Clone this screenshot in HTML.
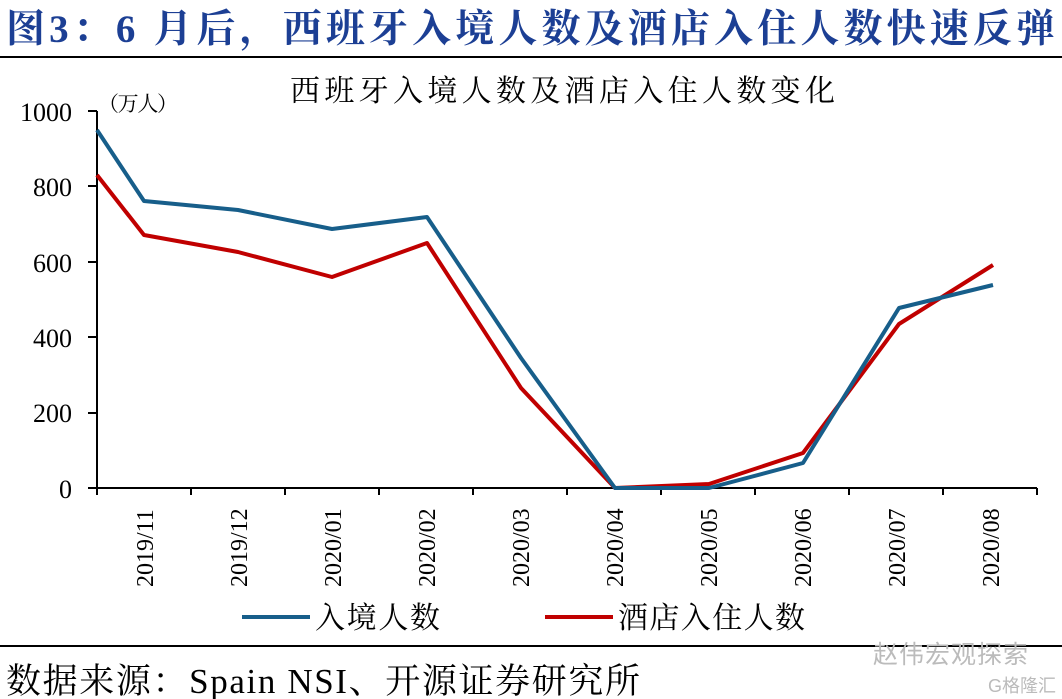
<!DOCTYPE html>
<html><head><meta charset="utf-8"><style>
html,body{margin:0;padding:0;background:#fff;width:1062px;height:699px;overflow:hidden}
svg{display:block}
</style></head><body>
<svg width="1062" height="699" xmlns="http://www.w3.org/2000/svg" font-family="Liberation Serif, Noto Serif CJK SC, serif">
<text x="6" y="42" font-size="39" font-weight="bold" fill="#1c3f94" textLength="1049" lengthAdjust="spacing">图3：6 月后，西班牙入境人数及酒店入住人数快速反弹</text>
<line x1="0" y1="57" x2="1062" y2="57" stroke="#000" stroke-width="2"/>
<text x="290" y="101" font-size="30" fill="#000" textLength="545" lengthAdjust="spacing">西班牙入境人数及酒店入住人数变化</text>
<text x="98" y="111" font-size="21" fill="#000" textLength="80" lengthAdjust="spacing">（万人）</text>
<g font-size="26" text-anchor="end" fill="#000">
<text x="72" y="121">1000</text><text x="72" y="196">800</text><text x="72" y="272">600</text>
<text x="72" y="347">400</text><text x="72" y="422">200</text><text x="72" y="498">0</text>
</g>
<g stroke="#000" stroke-width="2">
<line x1="97" y1="111" x2="97" y2="488"/>
<line x1="88" y1="488" x2="1037" y2="488"/>
<line x1="88" y1="111" x2="97" y2="111"/><line x1="88" y1="186" x2="97" y2="186"/>
<line x1="88" y1="262" x2="97" y2="262"/><line x1="88" y1="337" x2="97" y2="337"/>
<line x1="88" y1="413" x2="97" y2="413"/>
<line x1="97" y1="488" x2="97" y2="495"/><line x1="191" y1="488" x2="191" y2="495"/>
<line x1="285" y1="488" x2="285" y2="495"/><line x1="379" y1="488" x2="379" y2="495"/>
<line x1="473" y1="488" x2="473" y2="495"/><line x1="567" y1="488" x2="567" y2="495"/>
<line x1="661" y1="488" x2="661" y2="495"/><line x1="755" y1="488" x2="755" y2="495"/>
<line x1="849" y1="488" x2="849" y2="495"/><line x1="943" y1="488" x2="943" y2="495"/>
<line x1="1037" y1="488" x2="1037" y2="495"/>
</g>
<g font-size="24" fill="#000">
<text transform="translate(153,587) rotate(-90)">2019/11</text>
<text transform="translate(247,587) rotate(-90)">2019/12</text>
<text transform="translate(341,587) rotate(-90)">2020/01</text>
<text transform="translate(435,587) rotate(-90)">2020/02</text>
<text transform="translate(529,587) rotate(-90)">2020/03</text>
<text transform="translate(623,587) rotate(-90)">2020/04</text>
<text transform="translate(717,587) rotate(-90)">2020/05</text>
<text transform="translate(811,587) rotate(-90)">2020/06</text>
<text transform="translate(905,587) rotate(-90)">2020/07</text>
<text transform="translate(999,587) rotate(-90)">2020/08</text>
</g>
<polyline fill="none" stroke="#c00000" stroke-width="4" stroke-linejoin="round" points="97,175 144,235 238,252 332,277 427,243 521,388 615,488 709,484 803,453 899,324 993,265"/>
<polyline fill="none" stroke="#175e8a" stroke-width="4" stroke-linejoin="round" points="97,130 144,201 238,210 332,229 427,217 521,358 615,488 709,488 803,463 899,308 993,285"/>
<line x1="242" y1="617" x2="310" y2="617" stroke="#175e8a" stroke-width="4"/>
<text x="315" y="628" font-size="30" fill="#000" textLength="125" lengthAdjust="spacing">入境人数</text>
<line x1="545" y1="617" x2="613" y2="617" stroke="#c00000" stroke-width="4"/>
<text x="618" y="628" font-size="30" fill="#000" textLength="187" lengthAdjust="spacing">酒店入住人数</text>
<line x1="0" y1="646" x2="1062" y2="646" stroke="#000" stroke-width="2"/>
<text x="873" y="663" font-size="25" fill="#bbb" font-family="Liberation Sans, Noto Sans CJK SC, sans-serif" textLength="155" lengthAdjust="spacing">赵伟宏观探索</text>
<text x="6" y="693" font-size="35" fill="#000" textLength="634" lengthAdjust="spacing">数据来源：Spain NSI、开源证券研究所</text>
<text x="988" y="692" font-size="18" fill="#bbb" font-family="Liberation Sans, Noto Sans CJK SC, sans-serif">G格隆汇</text>
</svg>
</body></html>
